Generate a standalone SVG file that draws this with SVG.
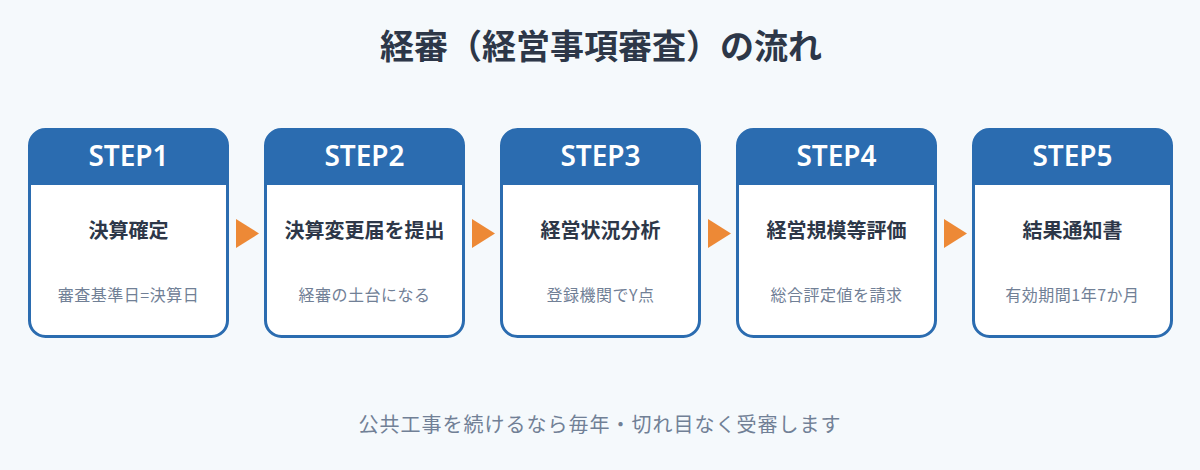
<svg xmlns="http://www.w3.org/2000/svg" width="1200" height="470" viewBox="0 0 1200 470">
<defs>
<style>
.bg{fill:#f5f9fc}
.card{fill:#ffffff;stroke:#2b6cb0;stroke-width:3}
.head{fill:#2b6cb0}
.step{font-family:"Noto Sans","Noto Sans CJK JP",sans-serif;font-size:28px;font-weight:600;fill:#ffffff;text-anchor:middle}
.ttl{font-family:"Noto Sans CJK JP",sans-serif;font-size:20px;font-weight:700;fill:#2d3748;text-anchor:middle}
.sub{font-family:"Noto Sans CJK JP",sans-serif;font-size:16px;letter-spacing:0.5px;fill:#718096;text-anchor:middle}
.main{font-family:"Noto Sans CJK JP",sans-serif;font-size:34px;font-weight:700;fill:#2d3748;text-anchor:middle}
.note{font-family:"Noto Sans CJK JP",sans-serif;font-size:20px;letter-spacing:1px;fill:#718096;text-anchor:middle}
.arr{fill:#ed8936}
</style>
</defs>
<rect class="bg" x="0" y="0" width="1200" height="470"/>
<text class="main" x="601" y="59">経審（経営事項審査）の流れ</text>

<g id="step1">
<rect class="card" x="29.5" y="129.5" width="198" height="207" rx="16"/>
<path class="head" d="M29.5 185 V145.5 A16 16 0 0 1 45.5 129.5 H211.5 A16 16 0 0 1 227.5 145.5 V185 Z"/>
<text class="step" x="128.5" y="166">STEP1</text>
<text class="ttl" x="128.5" y="238">決算確定</text>
<text class="sub" x="128.5" y="301">審査基準日=決算日</text>
</g>
<g id="step2">
<rect class="card" x="265.5" y="129.5" width="198" height="207" rx="16"/>
<path class="head" d="M265.5 185 V145.5 A16 16 0 0 1 281.5 129.5 H447.5 A16 16 0 0 1 463.5 145.5 V185 Z"/>
<text class="step" x="364.5" y="166">STEP2</text>
<text class="ttl" x="364.5" y="238">決算変更届を提出</text>
<text class="sub" x="364.5" y="301">経審の土台になる</text>
</g>
<g id="step3">
<rect class="card" x="501.5" y="129.5" width="198" height="207" rx="16"/>
<path class="head" d="M501.5 185 V145.5 A16 16 0 0 1 517.5 129.5 H683.5 A16 16 0 0 1 699.5 145.5 V185 Z"/>
<text class="step" x="600.5" y="166">STEP3</text>
<text class="ttl" x="600.5" y="238">経営状況分析</text>
<text class="sub" x="600.5" y="301">登録機関でY点</text>
</g>
<g id="step4">
<rect class="card" x="737.5" y="129.5" width="198" height="207" rx="16"/>
<path class="head" d="M737.5 185 V145.5 A16 16 0 0 1 753.5 129.5 H919.5 A16 16 0 0 1 935.5 145.5 V185 Z"/>
<text class="step" x="836.5" y="166">STEP4</text>
<text class="ttl" x="836.5" y="238">経営規模等評価</text>
<text class="sub" x="836.5" y="301">総合評定値を請求</text>
</g>
<g id="step5">
<rect class="card" x="973.5" y="129.5" width="198" height="207" rx="16"/>
<path class="head" d="M973.5 185 V145.5 A16 16 0 0 1 989.5 129.5 H1155.5 A16 16 0 0 1 1171.5 145.5 V185 Z"/>
<text class="step" x="1072.5" y="166">STEP5</text>
<text class="ttl" x="1072.5" y="238">結果通知書</text>
<text class="sub" x="1072.5" y="301">有効期間1年7か月</text>
</g>

<g id="connectors">
<polygon class="arr" points="236,219 259,233.5 236,248"/>
<polygon class="arr" points="472,219 495,233.5 472,248"/>
<polygon class="arr" points="708,219 731,233.5 708,248"/>
<polygon class="arr" points="944,219 967,233.5 944,248"/>
</g>

<text class="note" x="600" y="432">公共工事を続けるなら毎年・切れ目なく受審します</text>
</svg>
